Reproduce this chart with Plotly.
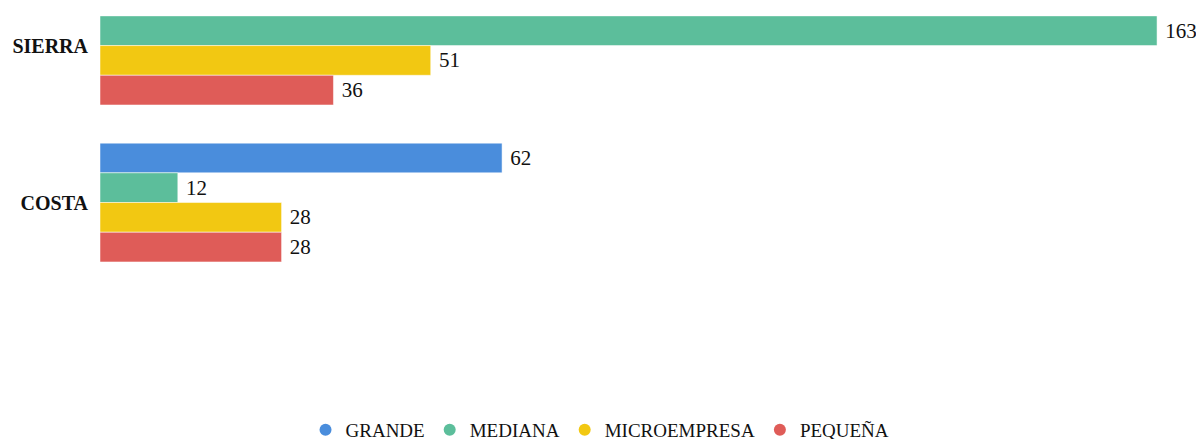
import plotly.graph_objects as go

categories = ["SIERRA", "COSTA"]
series_names = ["GRANDE", "MEDIANA", "MICROEMPRESA", "PEQUEÑA"]
grande = [None, 62]
mediana = [163, 12]
microempresa = [51, 28]
pequena = [36, 28]
colors = ["#4A8DDC", "#5CBE9B", "#F2C812", "#DF5C58"]

values = [grande, mediana, microempresa, pequena]
FONT = "Liberation Serif"

fig = go.Figure()
for name, vals, col in zip(series_names, values, colors):
    fig.add_trace(go.Bar(
        y=categories, x=vals, name=name, orientation="h",
        marker=dict(color=col, line=dict(color="rgba(255,255,255,0.5)", width=1)),
        text=[("\u00a0" + str(v)) if v is not None else "" for v in vals],
        textposition="outside", cliponaxis=False, constraintext="none",
        textfont=dict(family=FONT, size=21, color="#111111"),
        showlegend=False, hoverinfo="x+name",
    ))
for name, col in zip(series_names, colors):
    fig.add_trace(go.Scatter(
        x=[None], y=[None], mode="markers", name=name,
        marker=dict(symbol="circle", size=12, color=col),
        showlegend=True,
    ))

# page body has an 8px margin, so the figure is sized/offset accordingly
fig.update_layout(
    width=1196, height=443,
    margin=dict(l=92, r=0, t=0, b=151),
    plot_bgcolor="white", paper_bgcolor="white",
    barmode="group", bargap=0.243, bargroupgap=0,
    xaxis=dict(range=[0, 170.24], visible=False, showgrid=False, zeroline=False),
    yaxis=dict(
        categoryorder="array", categoryarray=categories,
        range=[1.621, -0.2395], showgrid=False, zeroline=False, showline=False,
        ticks="", ticklabelstandoff=11, automargin=False,
        tickfont=dict(family=FONT, size=20, color="#111111", weight="bold"),
    ),
    legend=dict(
        orientation="h", xref="container", yref="container",
        x=0.495, xanchor="center", y=0.005, yanchor="bottom",
        font=dict(family=FONT, size=19, color="#111111"),
        itemwidth=30, traceorder="normal",
    ),
    font=dict(family=FONT),
)

fig.write_html("out.html")
